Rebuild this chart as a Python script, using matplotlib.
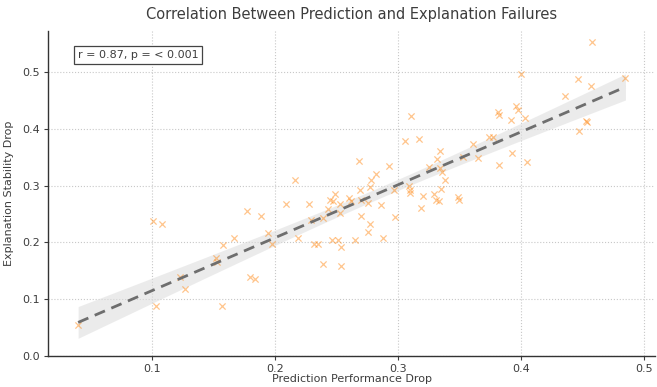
"""Scatter of prediction vs explanation drop with linear fit and 95% band."""
import numpy as np
import matplotlib
matplotlib.use("Agg")
import matplotlib.pyplot as plt

# values
pred_drop = [0.040, 0.101, 0.108, 0.103, 0.123, 0.127, 0.152, 0.153, 0.158, 0.157,
             0.167, 0.177, 0.180, 0.184, 0.189, 0.194, 0.198, 0.209, 0.216, 0.219,
             0.228, 0.229, 0.232, 0.235, 0.239, 0.239, 0.243, 0.246, 0.245, 0.247,
             0.249, 0.251, 0.253, 0.253, 0.254, 0.254, 0.260, 0.262, 0.265, 0.268,
             0.269, 0.270, 0.276, 0.277, 0.277, 0.276, 0.278, 0.282, 0.286, 0.288,
             0.293, 0.297, 0.298, 0.306, 0.309, 0.310, 0.310, 0.311, 0.317, 0.319,
             0.320, 0.325, 0.329, 0.331, 0.333, 0.332, 0.334, 0.334, 0.336, 0.338,
             0.335, 0.349, 0.350, 0.353, 0.361, 0.365, 0.374, 0.377, 0.381, 0.382,
             0.382, 0.392, 0.393, 0.396, 0.398, 0.400, 0.403, 0.405, 0.436, 0.446,
             0.447, 0.453, 0.454, 0.457, 0.458, 0.485, 0.270]
expl_drop = [0.055, 0.237, 0.232, 0.088, 0.139, 0.118, 0.173, 0.166, 0.196, 0.088,
             0.208, 0.256, 0.139, 0.135, 0.247, 0.217, 0.198, 0.267, 0.309, 0.207,
             0.267, 0.240, 0.198, 0.198, 0.243, 0.162, 0.259, 0.205, 0.275, 0.272,
             0.286, 0.204, 0.267, 0.252, 0.192, 0.158, 0.278, 0.273, 0.205, 0.344,
             0.293, 0.246, 0.269, 0.297, 0.233, 0.219, 0.310, 0.321, 0.266, 0.208,
             0.335, 0.293, 0.245, 0.378, 0.299, 0.293, 0.287, 0.422, 0.382, 0.260,
             0.281, 0.333, 0.286, 0.274, 0.272, 0.346, 0.361, 0.330, 0.324, 0.310,
             0.294, 0.280, 0.275, 0.350, 0.373, 0.348, 0.385, 0.385, 0.429, 0.425,
             0.337, 0.416, 0.358, 0.440, 0.433, 0.496, 0.418, 0.341, 0.457, 0.487,
             0.396, 0.414, 0.412, 0.475, 0.553, 0.489, 0.275]
stat_text = "r = 0.87, p = < 0.001"

x = np.array(pred_drop)
y = np.array(expl_drop)

# least squares fit + analytic 95% confidence band of the mean
slope, icept = np.polyfit(x, y, 1)
xs = np.linspace(x.min(), x.max(), 100)
ys = icept + slope * xs
n = len(x)
resid = y - (icept + slope * x)
s = np.sqrt(np.sum(resid ** 2) / (n - 2))
se = s * np.sqrt(1 / n + (xs - x.mean()) ** 2 / np.sum((x - x.mean()) ** 2))
t = 1.985

txt = "#3d3d3d"
plt.rcParams.update({"font.family": "DejaVu Sans", "text.color": txt,
                     "axes.labelcolor": txt, "xtick.color": txt, "ytick.color": txt})

fig = plt.figure(figsize=(6.57, 3.87), dpi=100)
ax = fig.add_axes([48 / 657, 31 / 387, 607 / 657, 325 / 387])

ax.fill_between(xs, ys - t * se, ys + t * se, color="#dcdcdc", alpha=0.55, lw=0, zorder=1)
ax.scatter(x, y, marker="x", s=20, lw=0.9, color="#ff8c1a", alpha=0.5, zorder=2)
ax.plot(xs, ys, ls=(0, (4, 2.5)), lw=2.0, color="#6e6e6e", zorder=3)

ax.set_xlim(0.0155, 0.509)
ax.set_ylim(0, 0.572)
ax.set_xticks([0.1, 0.2, 0.3, 0.4, 0.5])
ax.set_yticks([0.0, 0.1, 0.2, 0.3, 0.4, 0.5])
ax.tick_params(labelsize=8, length=3, width=0.8, pad=2.5)
ax.grid(True, ls=":", color="#c8c8c8", lw=0.8)
ax.set_axisbelow(True)
for side in ["top", "right"]:
    ax.spines[side].set_visible(False)
for side in ["left", "bottom"]:
    ax.spines[side].set_color("#333333")
    ax.spines[side].set_linewidth(1.0)

ax.set_title("Correlation Between Prediction and Explanation Failures", fontsize=10.5, pad=9)
ax.set_xlabel("Prediction Performance Drop", fontsize=8, labelpad=0)
ax.set_ylabel("Explanation Stability Drop", fontsize=8, labelpad=6)
ax.text(0.049, 0.925, stat_text, transform=ax.transAxes, fontsize=8, va="center",
        bbox=dict(boxstyle="square,pad=0.35", fc="white", ec="#444444", lw=0.9))

fig.savefig("out.png", dpi=100)
